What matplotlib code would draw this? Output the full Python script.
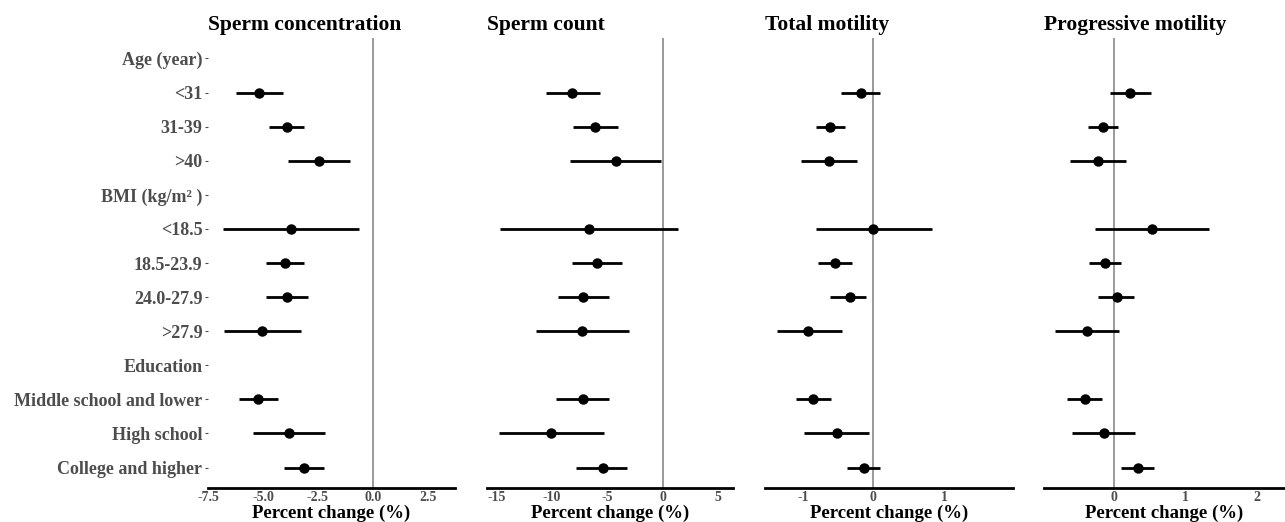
import matplotlib
matplotlib.use('Agg')
import matplotlib.pyplot as plt
import numpy as np

plt.rcParams['font.family'] = ['Liberation Serif', 'DejaVu Serif']
plt.rcParams['axes.unicode_minus'] = False

nan = np.nan

# 行标签（从上到下）
rows = ['Age (year)', '<31', '31-39', '>40',
        'BMI (kg/m\u00b2 )', '<18.5', '18.5-23.9', '24.0-27.9', '>27.9',
        'Education', 'Middle school and lower', 'High school', 'College and higher']

titles = ['Sperm concentration', 'Sperm count', 'Total motility', 'Progressive motility']

# Sperm concentration
conc_est = [nan, -5.16, -3.92, -2.43, nan, -3.74, -4.00, -3.92, -5.02, nan, -5.21, -3.82, -3.14]
conc_lo = [nan, -6.24, -4.71, -3.86, nan, -6.84, -4.87, -4.87, -6.77, nan, -6.11, -5.46, -4.04]
conc_hi = [nan, -4.07, -3.12, -1.02, nan, -0.65, -3.13, -2.96, -3.26, nan, -4.30, -2.17, -2.23]

# Sperm count
count_est = [nan, -8.20, -6.10, -4.23, nan, -6.64, -5.95, -7.15, -7.27, nan, -7.21, -10.05, -5.35]
count_lo = [nan, -10.50, -8.10, -8.35, nan, -14.66, -8.14, -9.46, -11.41, nan, -9.61, -14.80, -7.80]
count_hi = [nan, -5.65, -4.05, -0.10, nan, 1.41, -3.64, -4.80, -3.06, nan, -4.86, -5.31, -3.24]

# Total motility
tm_est = [nan, -0.18, -0.61, -0.63, nan, 0.00, -0.55, -0.33, -0.92, nan, -0.85, -0.52, -0.14]
tm_lo = [nan, -0.46, -0.82, -1.03, nan, -0.82, -0.78, -0.62, -1.37, nan, -1.09, -0.98, -0.38]
tm_hi = [nan, 0.10, -0.40, -0.23, nan, 0.83, -0.31, -0.11, -0.45, nan, -0.60, -0.06, 0.10]

# Progressive motility
pm_est = [nan, 0.22, -0.16, -0.23, nan, 0.53, -0.13, 0.03, -0.38, nan, -0.42, -0.15, 0.33]
pm_lo = [nan, -0.06, -0.37, -0.62, nan, -0.27, -0.36, -0.23, -0.84, nan, -0.66, -0.59, 0.10]
pm_hi = [nan, 0.51, 0.05, 0.16, nan, 1.33, 0.09, 0.28, 0.07, nan, -0.18, 0.29, 0.56]

panels = [(conc_est, conc_lo, conc_hi), (count_est, count_lo, count_hi),
          (tm_est, tm_lo, tm_hi), (pm_est, pm_lo, pm_hi)]

xticks = [[-7.5, -5.0, -2.5, 0.0, 2.5], [-15, -10, -5, 0, 5], [-1, 0, 1], [0, 1, 2]]
xfmt = ['%.1f', '%d', '%d', '%d']
xlims = [(-7.34, 3.74), (-15.86, 6.36), (-1.536, 1.977), (-0.99, 2.40)]

W, H = 1285, 522
fig = plt.figure(figsize=(W / 100, H / 100), dpi=100)
fig.patch.set_facecolor('white')

# 每个面板的像素位置（左、右）
lefts = [208, 487, 765, 1044]
rights = [455, 733, 1013, 1285]
top, bottom = 38, 488

y = np.arange(len(rows))[::-1] + 1

for i in range(4):
    est, lo, hi = [np.array(a, dtype=float) for a in panels[i]]
    ax = fig.add_axes([lefts[i] / W, (H - bottom) / H, (rights[i] - lefts[i]) / W, (bottom - top) / H])
    ax.axvline(0, color='#7f7f7f', lw=1.1, zorder=1)
    ax.hlines(y, lo, hi, color='black', lw=2, zorder=2)
    ax.plot(est, y, 'o', color='black', ms=6.5, zorder=3)
    ax.set_xlim(*xlims[i])
    ax.set_ylim(0.4, len(rows) + 0.6)
    for s in ['top', 'right', 'left']:
        ax.spines[s].set_visible(False)
    ax.spines['bottom'].set_linewidth(2)
    ax.set_xticks(xticks[i])
    ax.set_xticklabels([xfmt[i] % t for t in xticks[i]], fontweight='bold')
    ax.tick_params(axis='x', length=0, pad=2, labelsize=10, labelcolor='#4d4d4d')
    if i == 0:
        ax.set_yticks(y)
        ax.set_yticklabels(rows, fontweight='bold', fontsize=13, color='#4d4d4d')
        ax.tick_params(axis='y', length=2, width=0.8, color='#4d4d4d', pad=2)
    else:
        ax.set_yticks([])
    ax.set_title(titles[i], loc='left', fontweight='bold', fontsize=15.5, pad=6)
    ax.set_xlabel('Percent change (%)', fontweight='bold', fontsize=13.5, labelpad=1)

plt.savefig('out.png', dpi=100)
